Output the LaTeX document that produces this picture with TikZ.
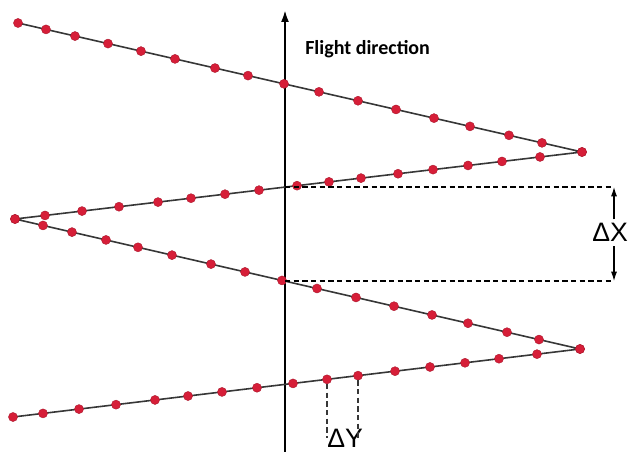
\documentclass[tikz,border=0pt]{standalone}
\usepackage{fontspec}
\setmainfont{Liberation Sans}
\newfontfamily\captionfont{Carlito}
\usetikzlibrary{arrows.meta,calc}
\definecolor{shotred}{RGB}{214, 30, 56}
\definecolor{trackgray}{RGB}{55, 55, 55}

\begin{document}
\begin{tikzpicture}[
    x=0.75pt, y=-0.75pt,
    track/.style={draw=trackgray, line width=1.2pt},
    shot/.style={
      circle,
      fill=shotred,
      draw=shotred!80!black,
      line width=0.3pt,
      inner sep=0pt,
      minimum size=6.8pt
    },
    axisline/.style={-{Latex[length=9pt,width=6pt]}, line width=1.6pt},
    guide/.style={dash pattern=on 4pt off 2.5pt, line width=0.8pt},
    dimarrow/.style={-{Latex[length=7pt,width=4.5pt]}, line width=0.8pt},
    dimlabel/.style={font=\fontsize{20}{20}\selectfont, inner xsep=0pt, inner ysep=3pt}
  ]
    \path[use as bounding box, clip] (0,0) rectangle (628,452);

    % turning points of the flight lines
    \coordinate (v0) at (18,23);
    \coordinate (v1) at (582,152);
    \coordinate (v2) at (15,219);
    \coordinate (v3) at (580,349);
    \coordinate (v4) at (13,417);

    \coordinate (axisbot) at (285,452);
    \coordinate (axistop) at (285,10);
    \draw[axisline] (axisbot) -- (axistop);
    \node[anchor=base west, font=\captionfont\bfseries\fontsize{15}{15}\selectfont, inner sep=0pt]
      (fdir) at (305,55) {Flight direction};

    \draw[track] (v0) -- (v1) -- (v2) -- (v3) -- (v4);

    % exposure points
    \foreach \x [count=\i] in {18,46,75,108,141,175,215,248,284,319,358,396,434,470,509,542,582}
      \node[shot] (a\i) at ($(v0)!{(\x-18)/564}!(v1)$) {};
    \foreach \x [count=\i] in {582,540,502,468,433,398,361,329,297,259,225,191,158,119,82,45,15}
      \node[shot] (b\i) at ($(v1)!{(582-\x)/567}!(v2)$) {};
    \foreach \x [count=\i] in {15,43,72,106,138,172,211,245,282,317,356,394,432,468,507,539,580}
      \node[shot] (c\i) at ($(v2)!{(\x-15)/565}!(v3)$) {};
    \foreach \x [count=\i] in {580,537,499,465,430,395,358,327,293,257,222,188,155,116,79,43,13}
      \node[shot] (d\i) at ($(v3)!{(580-\x)/567}!(v4)$) {};

    % line spacing
    \coordinate (dxtop) at (614,187);
    \coordinate (dxbot) at (614,281);
    \draw[guide] (axisbot |- dxtop) -- (dxtop);
    \draw[guide] (axisbot |- dxbot) -- (dxbot);
    \node[dimlabel, anchor=base west] (dx) at (592,242) {ΔX};
    \draw[dimarrow] (dxtop |- dx.north) -- (dxtop);
    \draw[dimarrow] (dxbot |- dx.south) -- (dxbot);

    % point spacing
    \node[dimlabel, anchor=base west, inner ysep=1pt] (dy) at (327,447) {ΔY};
    \draw[guide, draw=trackgray] (d8) -- (d8 |- dy.center);
    \draw[guide, draw=trackgray] (d7) -- (d7 |- dy.center);
\end{tikzpicture}
\end{document}
